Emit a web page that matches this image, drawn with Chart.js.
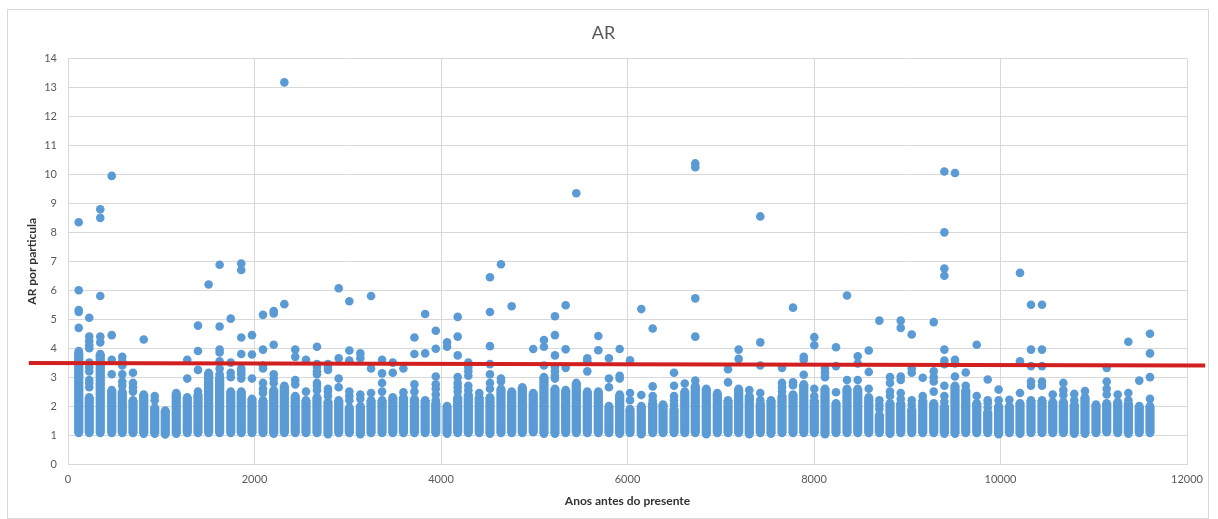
<!DOCTYPE html>
<html>
<head>
<meta charset="utf-8">
<script src="https://cdn.jsdelivr.net/npm/chart.js@4"></script>
<style>
  body { margin: 0; background: #fff; }
  #wrap { position: relative; width: 1218px; height: 519px; }
  #frame { position: absolute; left: 7px; top: 9px; width: 1200px; height: 508px; border: 1px solid #d9d9d9; pointer-events: none; }
</style>
</head>
<body>
<div id="wrap">
  <canvas id="chart" width="1218" height="519"></canvas>
  <div id="frame"></div>
</div>
<script>
// idade de cada amostra (anos antes do presente)
const ages = [
  115, 228, 346, 469, 582, 697, 812, 930, 1043, 1161,
  1279, 1394, 1508, 1626, 1745, 1858, 1973, 2091, 2206, 2320,
  2437, 2552, 2670, 2788, 2903, 3017, 3135, 3250, 3368, 3483,
  3597, 3715, 3830, 3944, 4065, 4179, 4293, 4410, 4525, 4643,
  4758, 4872, 4989, 5104, 5222, 5337, 5451, 5569, 5687, 5801,
  5916, 6027, 6148, 6270, 6381, 6499, 6614, 6727, 6845, 6963,
  7078, 7192, 7306, 7424, 7539, 7657, 7775, 7890, 8003, 8118,
  8236, 8354, 8469, 8587, 8701, 8815, 8930, 9048, 9166, 9284,
  9398, 9512, 9627, 9745, 9863, 9980, 10095, 10209, 10327, 10445,
  10560, 10674, 10791, 10906, 11024, 11139, 11257, 11371, 11488, 11603
];

// faixa densa de cada amostra (menor e maior AR do bloco continuo)
const coreLow = [
  1.07, 1.07, 1.07, 1.07, 1.07, 1.07, 1.05, 1.05, 1.02, 1.05,
  1.07, 1.07, 1.07, 1.07, 1.07, 1.07, 1.07, 1.07, 1.05, 1.07,
  1.07, 1.07, 1.07, 1.03, 1.07, 1.07, 1.03, 1.07, 1.07, 1.07,
  1.07, 1.07, 1.07, 1.07, 1.05, 1.07, 1.07, 1.07, 1.05, 1.07,
  1.07, 1.07, 1.1, 1.05, 1.05, 1.07, 1.07, 1.07, 1.07, 1.07,
  1.05, 1.07, 1.03, 1.07, 1.07, 1.07, 1.07, 1.07, 1.03, 1.07,
  1.07, 1.07, 1.03, 1.07, 1.05, 1.07, 1.07, 1.07, 1.07, 1.03,
  1.07, 1.07, 1.07, 1.07, 1.07, 1.05, 1.07, 1.07, 1.07, 1.07,
  1.05, 1.05, 1.07, 1.07, 1.07, 1.03, 1.07, 1.05, 1.07, 1.07,
  1.07, 1.07, 1.05, 1.05, 1.07, 1.1, 1.07, 1.05, 1.07, 1.07
];
const coreHigh = [
  3.85, 2.3, 3.8, 2.55, 2.5, 2.2, 2.4, 1.95, 1.85, 2.45,
  2.3, 2.4, 3.15, 3.0, 2.5, 2.5, 2.25, 2.2, 2.55, 2.7,
  2.35, 2.2, 2.3, 2.15, 2.2, 1.95, 2.0, 2.2, 2.2, 2.3,
  2.3, 2.25, 2.2, 2.1, 2.0, 2.3, 2.4, 2.3, 2.3, 2.6,
  2.5, 2.65, 2.45, 3.0, 2.6, 2.55, 2.8, 2.5, 2.5, 2.0,
  2.4, 1.9, 2.0, 2.1, 2.05, 1.9, 2.5, 2.7, 2.6, 2.45,
  2.2, 2.6, 2.35, 2.1, 2.2, 2.35, 2.4, 2.75, 2.2, 2.6,
  2.1, 2.6, 2.6, 2.3, 1.7, 2.1, 2.1, 1.9, 2.2, 2.1,
  2.0, 2.7, 2.55, 2.1, 1.8, 2.0, 2.0, 2.1, 2.2, 2.2,
  2.15, 2.15, 2.05, 2.3, 2.05, 2.1, 2.15, 2.1, 2.0, 2.0
];

// particulas isoladas acima do bloco denso
const upperPoints = [
  [3.9, 4.7, 5.25, 5.32, 6.0, 8.35],
  [2.65, 2.8, 2.9, 3.2, 3.35, 3.5, 4.0, 4.1, 4.25, 4.4, 5.05],
  [4.2, 4.4, 5.8, 8.5, 8.8],
  [3.1, 3.6, 4.45, 9.95],
  [2.7, 2.85, 3.1, 3.4, 3.55, 3.7],
  [2.5, 2.65, 2.8, 3.15],
  [4.3],
  [2.2, 2.35],
  [],
  [],
  [2.95, 3.6],
  [2.5, 3.25, 3.9, 4.78],
  [6.2],
  [3.1, 3.3, 3.55, 3.85, 3.95, 4.75, 6.88],
  [3.0, 3.15, 3.5, 5.02],
  [2.95, 3.1, 3.2, 3.3, 3.8, 4.37, 6.7, 6.92],
  [2.95, 3.78, 4.45],
  [2.45, 2.6, 2.8, 3.3, 3.4, 3.95, 5.15],
  [2.8, 2.95, 3.1, 4.12, 5.2, 5.28],
  [5.52, 13.18],
  [2.75, 2.9, 3.7, 3.95],
  [2.5, 3.6],
  [2.55, 2.7, 2.8, 3.1, 3.2, 3.35, 3.45, 4.05],
  [2.35, 2.5, 2.6, 3.25, 3.35, 3.45],
  [2.65, 2.95, 3.65, 6.07],
  [2.2, 2.35, 2.5, 3.57, 3.92, 5.62],
  [2.25, 2.4, 3.65, 3.82],
  [2.45, 3.3, 5.8],
  [2.5, 2.8, 3.13, 3.6],
  [3.15, 3.5],
  [2.48, 3.3],
  [2.5, 2.75, 3.8, 4.37],
  [3.82, 5.18],
  [2.2, 2.4, 2.6, 2.75, 3.02, 3.98, 4.6],
  [4.05, 4.2],
  [2.5, 2.65, 2.8, 3.0, 3.75, 4.4, 5.08],
  [2.55, 2.7, 3.05, 3.2, 3.35, 3.5],
  [2.45],
  [2.6, 2.8, 3.1, 3.45, 4.07, 5.25, 6.45],
  [2.85, 2.95, 6.9],
  [5.45],
  [],
  [3.97],
  [3.4, 4.05, 4.28],
  [2.95, 3.05, 3.2, 3.35, 3.75, 4.45, 5.1],
  [3.32, 3.96, 5.48],
  [9.35],
  [3.2, 3.55, 3.65],
  [3.93, 4.42],
  [2.65, 2.95, 3.65],
  [2.95, 3.05, 3.97],
  [2.2, 2.45, 3.58],
  [2.38, 5.35],
  [2.2, 2.35, 2.68, 4.68],
  [],
  [2.05, 2.2, 2.35, 2.7, 3.15],
  [2.78],
  [2.88, 4.4, 5.72, 10.25, 10.38],
  [],
  [],
  [2.82, 3.27],
  [3.63, 3.95],
  [2.55],
  [2.2, 2.45, 3.4, 4.2, 8.55],
  [],
  [2.5, 2.65, 2.8, 3.32],
  [2.72, 2.82, 5.4],
  [3.08, 3.6, 3.7],
  [2.35, 2.6, 4.1, 4.38],
  [3.0, 3.15, 3.3],
  [2.48, 3.38, 4.03],
  [2.9, 5.82],
  [2.9, 3.47, 3.72],
  [2.6, 3.18, 3.92],
  [1.9, 2.05, 2.2, 4.95],
  [2.35, 2.5, 2.8, 3.0],
  [2.25, 2.45, 2.9, 3.02, 4.7, 4.95],
  [2.05, 2.2, 3.15, 3.3, 4.47],
  [2.35, 2.98],
  [2.5, 2.85, 3.0, 3.2, 4.9],
  [2.15, 2.35, 2.7, 3.45, 3.57, 3.95, 6.5, 6.75, 8.0, 10.1],
  [3.02, 3.47, 3.6, 10.05],
  [2.7, 3.16],
  [2.35, 4.12],
  [1.95, 2.1, 2.2, 2.92],
  [2.2, 2.57],
  [2.22],
  [2.45, 3.55, 6.6],
  [2.7, 2.85, 3.38, 3.95, 5.5],
  [2.7, 2.85, 3.38, 3.95, 5.5],
  [2.4],
  [2.38, 2.55, 2.8],
  [2.2, 2.42],
  [2.52],
  [],
  [2.4, 2.6, 2.85, 3.32],
  [2.4],
  [2.2, 2.45, 4.22],
  [2.88],
  [2.25, 3.0, 3.82, 4.5]
];

// linha vermelha (media)
const lineAges = [-420, 12195];
const lineValues = [3.49, 3.40];

const xTicks = [0, 2000, 4000, 6000, 8000, 10000, 12000];
const yTicks = [0, 1, 2, 3, 4, 5, 6, 7, 8, 9, 10, 11, 12, 13, 14];

const blue = '#5b9bd5';
const points = [];
ages.forEach((age, i) => {
    points.push({ x: age, y: coreLow[i] }, { x: age, y: coreHigh[i] });
    upperPoints[i].forEach(v => points.push({ x: age, y: v }));
});
const cores = ages.map((age, i) => ({ x: age, y: [coreLow[i], coreHigh[i]] }));
const redLine = lineAges.map((a, i) => ({ x: a, y: lineValues[i] }));

const tickFont = { family: 'Lato', size: 11 };
const titleFont = { family: 'Lato', size: 12, weight: 'bold' };

new Chart(document.getElementById('chart'), {
    type: 'scatter',
    data: {
        datasets: [
            {
                type: 'line',
                data: redLine,
                borderColor: '#d21f1f',
                borderWidth: 4,
                pointRadius: 0,
                clip: false,
                order: 0
            },
            {
                data: points,
                backgroundColor: blue,
                borderWidth: 0,
                pointRadius: 4.3,
                pointHoverRadius: 4.3,
                order: 1
            },
            {
                type: 'bar',
                data: cores,
                backgroundColor: blue,
                borderWidth: 0,
                borderSkipped: false,
                barThickness: 8.6,
                grouped: false,
                order: 2
            }
        ]
    },
    options: {
        responsive: false,
        animation: false,
        events: [],
        layout: { padding: { left: 20, right: 31, top: 0, bottom: 10 } },
        plugins: {
            legend: { display: false },
            tooltip: { enabled: false },
            title: {
                display: true,
                text: 'AR',
                color: '#595959',
                font: { family: 'Lato', size: 18, weight: 'normal' },
                padding: { top: 22, bottom: 15 }
            }
        },
        scales: {
            x: {
                type: 'linear',
                min: 0,
                max: 12000,
                offset: false,
                afterBuildTicks: s => { s.ticks = xTicks.map(v => ({ value: v })); },
                afterFit: s => { s.height = 45; },
                grid: { color: '#d9d9d9', drawTicks: false, offset: false },
                border: { color: '#d9d9d9' },
                ticks: { color: '#595959', font: tickFont, padding: 9, maxRotation: 0, callback: v => String(v) },
                title: { display: true, text: 'Anos antes do presente', color: '#333', font: titleFont, padding: { top: 0, bottom: 1 } }
            },
            y: {
                min: 0,
                max: 14,
                afterBuildTicks: s => { s.ticks = yTicks.map(v => ({ value: v })); },
                afterFit: s => { s.width = 48; },
                grid: { color: '#d9d9d9', drawTicks: false },
                border: { color: '#d9d9d9' },
                ticks: { color: '#595959', font: tickFont, padding: 11, callback: v => String(v) },
                title: { display: true, text: 'AR por particula', color: '#333', font: titleFont, padding: { top: 5, bottom: 0 } }
            }
        }
    }
});
</script>
</body>
</html>
